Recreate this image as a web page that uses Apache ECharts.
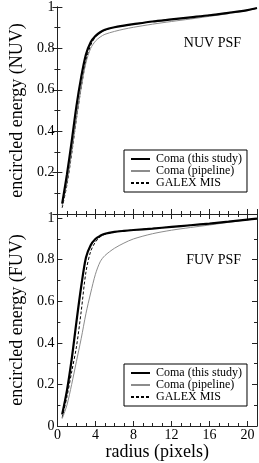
<!DOCTYPE html>
<html><head><meta charset="utf-8">
<script src="https://cdn.jsdelivr.net/npm/echarts@6/dist/echarts.min.js"></script>
<style>html,body{margin:0;padding:0;background:#fff}#c{width:259px;height:463px}</style>
</head><body><div id="c"></div>
<script>
const radius = [0.5,1,1.5,2,2.5,3,3.5,4,4.5,5,6,7,8,10,12,14,16,18,20,21];
const nuvThisStudy = [0.05,0.19,0.35,0.52,0.66,0.77,0.83,0.86,0.878,0.89,0.902,0.91,0.917,0.93,0.94,0.95,0.96,0.972,0.985,0.995];
const nuvPipeline  = [0.04,0.15,0.30,0.46,0.61,0.73,0.80,0.835,0.855,0.868,0.882,0.893,0.902,0.917,0.93,0.942,0.955,0.968,0.983,0.993];
const nuvGalex     = [0.03,0.14,0.29,0.46,0.61,0.74,0.815,0.855,0.875,0.888,0.902,0.91,0.917,0.93,0.94,0.95,0.96,0.972,0.985,0.995];
const fuvThisStudy = [0.055,0.17,0.32,0.50,0.67,0.81,0.87,0.90,0.915,0.925,0.934,0.939,0.943,0.95,0.958,0.966,0.974,0.983,0.993,0.998];
const fuvPipeline  = [0.035,0.10,0.20,0.31,0.42,0.54,0.64,0.73,0.79,0.82,0.855,0.88,0.90,0.925,0.942,0.955,0.967,0.98,0.992,0.998];
const fuvGalex     = [0.04,0.14,0.26,0.38,0.55,0.74,0.84,0.885,0.91,0.922,0.934,0.939,0.943,0.95,0.958,0.966,0.974,0.983,0.993,0.998];
const names = ['Coma (this study)','Coma (pipeline)','GALEX MIS'];
const xTicks = [0,4,8,12,16,20];
const yTicks = [0,0.2,0.4,0.6,0.8,1];

const FONT = 'Liberation Serif';
const pairs = (ys) => radius.map((r,i)=>[r, ys[i]]);
const axisLine = {show:true, lineStyle:{color:'#222', width:1}};
function xAx(gridIndex, position, showLabels){
  return {type:'value', gridIndex, position, min:0, max:21, interval:4,
    axisLine, splitLine:{show:false},
    axisTick:{show:true, inside:true, length:5, lineStyle:{color:'#222'}},
    minorTick:{show:true, splitNumber:4, length:3, lineStyle:{color:'#222'}},
    axisLabel:{show:showLabels, inside:false, margin:2, color:'#000', fontFamily:FONT, fontSize:14,
      showMaxLabel:false, formatter:v=> xTicks.includes(v)? String(v):''},
  };
}
function yAx(gridIndex, position, max, showLabels, name){
  return {type:'value', gridIndex, position, min:0, max, interval:0.2,
    axisLine, splitLine:{show:false},
    axisTick:{show:true, inside:true, length:5, lineStyle:{color:'#222'}},
    minorTick:{show:true, splitNumber:2, length:3, lineStyle:{color:'#222'}},
    axisLabel:{show:showLabels, margin:3, color:'#000', fontFamily:FONT, fontSize:14,
      formatter:v=>{const r=Math.round(v*10)/10; return (yTicks.includes(r) && Math.abs(v-r)<1e-6 && !(name.indexOf('NUV')>=0 && r===0))? String(r):'';}},
    name: showLabels? name : '', nameLocation:'middle', nameGap:23, nameRotate:90,
    nameTextStyle:{color:'#000', fontFamily:FONT, fontSize:18}
  };
}
const styles = [
  {color:'#000', width:2.2, type:'solid'},
  {color:'#8c8c8c', width:1, type:'solid'},
  {color:'#000', width:1, type:[3,2]}
];
function mkSeries(xi, yi, arrs){
  const order = [2,1,0];
  return order.map(k=>({type:'line', name:names[k], xAxisIndex:xi, yAxisIndex:yi,
    data:pairs(arrs[k]), smooth:0.3, symbol:'none', lineStyle:styles[k], itemStyle:{color:styles[k].color}, z: 3+ (2-k)}));
}
function legend(top){
  return {orient:'vertical', left:124, top, data:names, itemWidth:19, itemHeight:14, itemGap:0,
    padding:[3,5,3,6], borderColor:'#000', borderWidth:1, borderRadius:0, backgroundColor:'#fff',
    itemStyle:{opacity:0},
    selectedMode:false, textStyle:{fontFamily:FONT, fontSize:12, color:'#000', padding:[0,0,0,1]}};
}
const chart = echarts.init(document.getElementById('c'), null, {renderer:'canvas'});
chart.setOption({
  animation:false,
  backgroundColor:'#fff',
  grid:[{left:43, top:4, width:214, height:210},{left:43, top:214, width:214, height:212}],
  xAxis:[xAx(0,'bottom',false), xAx(0,'top',false),
    Object.assign(xAx(1,'bottom',true), {name:'radius (pixels)', nameLocation:'middle', nameGap:17,
      nameTextStyle:{color:'#000', fontFamily:FONT, fontSize:18}})],
  yAxis:[yAx(0,'left',1,true,'encircled energy (NUV)'), yAx(0,'right',1,false,''),
         yAx(1,'left',1.02,true,'encircled energy (FUV)'), yAx(1,'right',1.02,false,'')],
  legend:[legend(150), legend(364)],
  graphic:[
    {type:'text', right:18, top:36, style:{text:'NUV PSF', font:'14px "Liberation Serif"', fill:'#000'}},
    {type:'text', right:18, top:253, style:{text:'FUV PSF', font:'14px "Liberation Serif"', fill:'#000'}}
  ],
  series:[...mkSeries(0,0,[nuvThisStudy,nuvPipeline,nuvGalex]), ...mkSeries(2,2,[fuvThisStudy,fuvPipeline,fuvGalex])]
});
</script></body></html>
